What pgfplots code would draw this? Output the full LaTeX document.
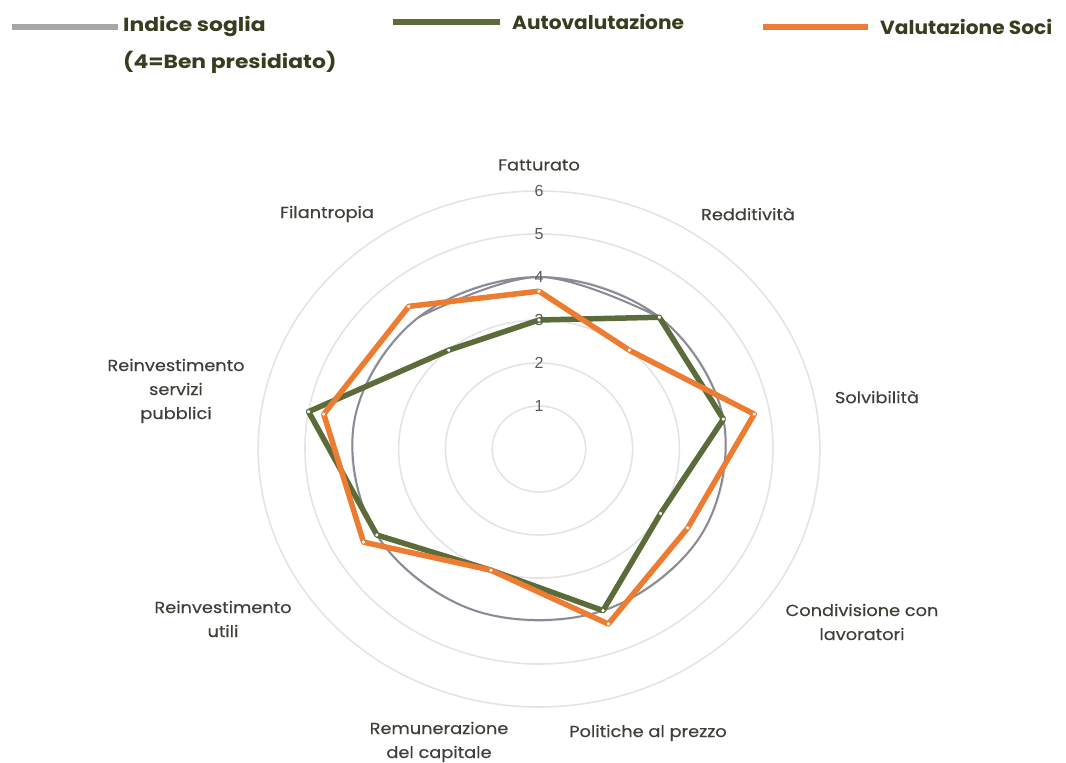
\documentclass[border=0pt]{standalone}
\usepackage{fontspec}
\setmainfont{Poppins}
\newfontfamily\labfont[FakeStretch=1.11, FakeBold=0.3]{Poppins}
\newfontfamily\legfont[FakeStretch=1.06]{Poppins}
\newfontfamily\legfontw[FakeStretch=1.15]{Poppins}
\newfontfamily\tickfont{Liberation Sans}
\usepackage{pgfplots}
\pgfplotsset{compat=1.18}
\definecolor{cgreen}{HTML}{5B6B3A}
\definecolor{corange}{HTML}{EC7C32}
\definecolor{cring}{HTML}{8A8A96}
\definecolor{cgrid}{HTML}{E4E4E4}
\definecolor{clab}{HTML}{403E38}
\definecolor{cleg}{HTML}{3A3C1E}
\definecolor{cleggray}{HTML}{A6A6A6}
\definecolor{ctick}{HTML}{595959}
\begin{document}
\begin{tikzpicture}
\useasboundingbox (0pt,0pt) rectangle (1066pt,763pt);
\begin{axis}[
  x=46.8pt, y=43pt,
  xmin=-6.5, xmax=6.5, ymin=-6.5, ymax=6.5,
  hide axis, clip=false,
  at={(539pt,314pt)}, anchor=center,
]
\pgfplotsinvokeforeach{1,2,3,4,5,6}{
  \draw[cgrid, line width=1.6pt] (axis cs:0,0) ellipse [x radius=#1*46.8pt, y radius=#1*43pt];
}
\addplot[cring, line width=2pt, smooth, tension=0.6, data cs=polar] coordinates {
 (130,4) (90,4) (50,4) (10,4) (330,4) (290,4) (250,4) (210,4) (170,4) (130,4) (90,4) (50,4)};
\addplot[cgreen, line width=5.5pt, line join=round, data cs=polar, mark=*, mark size=2pt,
  mark options={fill=white, draw=cgreen, line width=0.6pt}] coordinates {
 (90,3) (50,4) (10,4) (330,3) (290,4) (250,3) (210,4) (170,5) (130,3) (90,3)};
\addplot[corange, line width=5.5pt, line join=round, data cs=polar, mark=*, mark size=2pt,
  mark options={fill=white, draw=corange, line width=0.6pt}] coordinates {
 (90,3.67) (50,3) (10,4.67) (330,3.67) (290,4.33) (250,3) (210,4.33) (170,4.67) (130,4.33) (90,3.67)};
\node[font=\tickfont\fontsize{16}{18}\selectfont, text=ctick] at (axis cs:0,1) {1};
\node[font=\tickfont\fontsize{16}{18}\selectfont, text=ctick] at (axis cs:0,2) {2};
\node[font=\tickfont\fontsize{16}{18}\selectfont, text=ctick] at (axis cs:0,3) {3};
\node[font=\tickfont\fontsize{16}{18}\selectfont, text=ctick] at (axis cs:0,4) {4};
\node[font=\tickfont\fontsize{16}{18}\selectfont, text=ctick] at (axis cs:0,5) {5};
\node[font=\tickfont\fontsize{16}{18}\selectfont, text=ctick] at (axis cs:0,6) {6};
\end{axis}
\begin{scope}[x=1pt, y=1pt, every node/.style={align=center, text=clab, font=\labfont\fontsize{16}{24}\selectfont}]
\node at (539,598) {Fatturato};
\node at (748,549) {Redditività};
\node at (877,366) {Solvibilità};
\node at (862,141) {Condivisione con\\lavoratori};
\node at (648,30) {Politiche al prezzo};
\node at (439,21) {Remunerazione\\del capitale};
\node at (223,144) {Reinvestimento\\utili};
\node at (176,372) {Reinvestimento\\servizi\\pubblici};
\node at (327,549) {Filantropia};
\end{scope}
\begin{scope}[x=1pt, y=1pt, every node/.style={anchor=west, text=cleg, font=\legfont\bfseries\fontsize{19}{21}\selectfont, inner sep=0pt}]
\draw[cleggray, line width=6pt] (12,736) -- (118,736);
\node[font=\legfontw\bfseries\fontsize{19}{21}\selectfont] at (123,736) {Indice soglia};
\node[font=\legfontw\bfseries\fontsize{19}{21}\selectfont] at (123,701) {(4=Ben presidiato)};
\draw[cgreen, line width=6pt] (393,741) -- (500,741);
\node at (512,741) {Autovalutazione};
\draw[corange, line width=6pt] (763,736) -- (868,736);
\node at (880,736) {Valutazione Soci};
\end{scope}
\end{tikzpicture}
\end{document}
